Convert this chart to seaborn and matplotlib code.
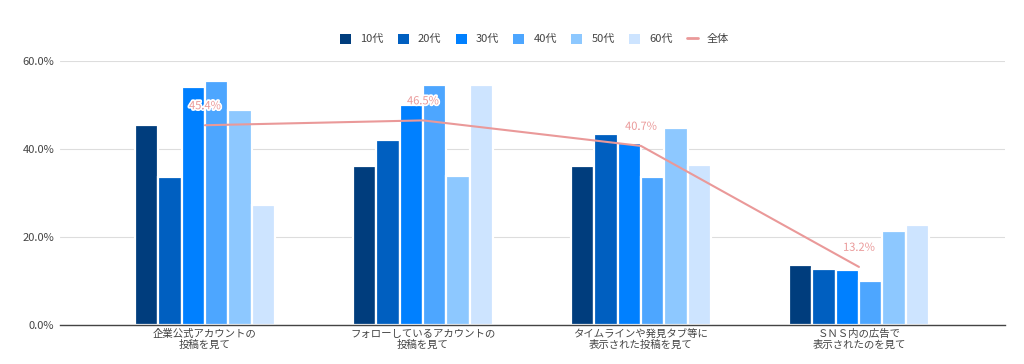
import pandas as pd
import numpy as np
import matplotlib
matplotlib.use('Agg')
import matplotlib.pyplot as plt
import matplotlib.patheffects as pe
from matplotlib.lines import Line2D
from matplotlib.patches import Patch
from matplotlib.ticker import FuncFormatter
import seaborn as sns

# Data
categories = ['企業公式アカウントの\n投稿を見て',
              'フォローしているアカウントの\n投稿を見て',
              'タイムラインや発見タブ等に\n表示された投稿を見て',
              'ＳＮＳ内の広告で\n表示されたのを見て']
ages = ['10代', '20代', '30代', '40代', '50代', '60代']
age_10 = [45.5, 36.1, 36.1, 13.6]
age_20 = [33.6, 42.0, 43.4, 12.7]
age_30 = [54.1, 50.0, 41.4, 12.5]
age_40 = [55.5, 54.5, 33.6, 10.0]
age_50 = [48.9, 33.9, 44.8, 21.4]
age_60 = [27.3, 54.5, 36.4, 22.7]
total = [45.4, 46.5, 40.7, 13.2]

colors = ['#003d7d', '#005fc0', '#0080ff', '#4da6ff', '#8dc8ff', '#cde4ff']
line_color = '#ea9999'

series = [age_10, age_20, age_30, age_40, age_50, age_60]
rows = []
for age, vals in zip(ages, series):
    for cat, v in zip(categories, vals):
        rows.append({'category': cat, 'age': age, 'value': v})
df = pd.DataFrame(rows)

sns.set_theme(style='white')
plt.rcParams['font.family'] = ['Noto Sans CJK JP', 'DejaVu Sans']

fig = plt.figure(figsize=(10.24, 3.64), dpi=100)
ax = fig.add_axes([60 / 1024, 1 - 325 / 364, 945 / 1024, 264 / 364])

sns.barplot(data=df, x='category', y='value', hue='age', order=categories,
            hue_order=ages, palette=colors, saturation=1, width=0.645,
            edgecolor='white', linewidth=1.6, ax=ax, legend=False)

# overall line through group centers
xs = np.arange(len(categories))
sns.lineplot(x=xs, y=total, color=line_color, linewidth=1.5, ax=ax, legend=False)
for x, v in zip(xs, total):
    ax.text(x, v + 3.2, f'{v:.1f}%', ha='center', va='bottom', fontsize=8,
            color=line_color,
            path_effects=[pe.withStroke(linewidth=2.5, foreground='white')])

ax.set_xlim(-0.665, 3.67)
ax.set_ylim(0, 60)
ax.set_yticks([0, 20, 40, 60])
ax.yaxis.set_major_formatter(FuncFormatter(lambda v, p: f'{v:.1f}%'))
ax.grid(axis='y', color='#dddddd', linewidth=0.8)
ax.set_axisbelow(True)
for s in ['top', 'right', 'left']:
    ax.spines[s].set_visible(False)
ax.spines['bottom'].set_color('#444444')
ax.spines['bottom'].set_linewidth(1.0)
ax.tick_params(axis='both', length=0, labelsize=8, colors='#444444', pad=4)
ax.tick_params(axis='x', labelsize=7.5, pad=3)
for lbl in ax.get_xticklabels():
    lbl.set_linespacing(1.05)
ax.set_xlabel('')
ax.set_ylabel('')

handles = [Patch(facecolor=c, edgecolor='none') for c in colors]
handles.append(Line2D([0], [0], color=line_color, linewidth=2))
fig.legend(handles, ages + ['全体'], loc='center', bbox_to_anchor=(0.522, 1 - 39 / 364),
           ncol=7, frameon=False, fontsize=8, handlelength=1.0, handleheight=1.0,
           columnspacing=1.3, handletextpad=0.8, labelcolor='#444444')

fig.savefig('out.png', dpi=100, facecolor='white')
